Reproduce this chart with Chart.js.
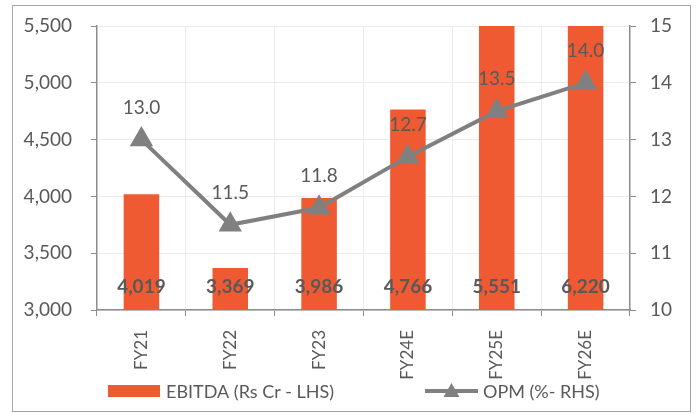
<!DOCTYPE html>
<html>
<head>
<meta charset="utf-8">
<script src="https://cdn.jsdelivr.net/npm/chart.js@4.4.1/dist/chart.umd.min.js"></script>
<style>
  html, body { margin: 0; padding: 0; background: #fff; }
  #wrap { position: relative; width: 696px; height: 413px; }
  #frame { position: absolute; left: 12px; top: 5px; width: 679px; height: 407px;
           border: 1px solid #a6a6a6; box-sizing: border-box; pointer-events: none; }
</style>
</head>
<body>
<div id="wrap">
  <canvas id="c" width="696" height="413"></canvas>
  <div id="frame"></div>
</div>
<script>
const years = ['FY21', 'FY22', 'FY23', 'FY24E', 'FY25E', 'FY26E'];
const ebitda = [4019, 3369, 3986, 4766, 5551, 6220];
const opm = [13.0, 11.5, 11.8, 12.7, 13.5, 14.0];
const leftTicks = [3000, 3500, 4000, 4500, 5000, 5500];
const rightTicks = [10, 11, 12, 13, 14, 15];

const FONT = 'Lato, "Open Sans", sans-serif';
const TXT = '#595959';
const BAR = '#F05A32';
const LINE = '#808080';
const AXIS = '#8c8c8c';
const GRID = '#ebebeb';

// value labels: bold inside bars near the base, plain above line points
const valueLabels = {
  id: 'valueLabels',
  afterDatasetsDraw(chart) {
    const ctx = chart.ctx;
    const bottom = chart.chartArea.bottom;
    ctx.save();
    ctx.fillStyle = TXT;
    ctx.textAlign = 'center';
    ctx.textBaseline = 'middle';
    ctx.font = 'bold 19px ' + FONT;
    chart.getDatasetMeta(0).data.forEach((el, i) => {
      ctx.fillText(ebitda[i].toLocaleString('en-US'), el.x, bottom - 23);
    });
    ctx.font = '19px ' + FONT;
    chart.getDatasetMeta(1).data.forEach((el, i) => {
      ctx.fillText(opm[i].toFixed(1), el.x, el.y - 32);
    });
    ctx.restore();
  }
};

// legend row under the axis labels
const bottomLegend = {
  id: 'bottomLegend',
  afterDraw(chart) {
    const ctx = chart.ctx;
    const y = 391;
    ctx.save();
    ctx.fillStyle = BAR;
    ctx.fillRect(108, y - 6, 52, 12);
    ctx.fillStyle = TXT;
    ctx.font = '18px ' + FONT;
    ctx.textBaseline = 'middle';
    ctx.textAlign = 'left';
    ctx.fillText(chart.data.datasets[0].label, 166, y + 1);
    ctx.strokeStyle = LINE;
    ctx.lineWidth = 4;
    ctx.beginPath();
    ctx.moveTo(425, y);
    ctx.lineTo(478, y);
    ctx.stroke();
    ctx.fillStyle = LINE;
    ctx.beginPath();
    ctx.moveTo(451.5, y - 8);
    ctx.lineTo(459.5, y + 6);
    ctx.lineTo(443.5, y + 6);
    ctx.closePath();
    ctx.fill();
    ctx.fillStyle = TXT;
    ctx.fillText(chart.data.datasets[1].label, 483, y + 1);
    ctx.restore();
  }
};

// fixed axis sizes so the plot area lands where it should
function fixVertical(width) {
  return s => { s.width = width; s.paddingTop = 0; s.paddingBottom = 0; };
}

new Chart(document.getElementById('c'), {
  data: {
    labels: years,
    datasets: [
      {
        type: 'bar',
        label: 'EBITDA (Rs Cr - LHS)',
        data: ebitda,
        yAxisID: 'y',
        backgroundColor: BAR,
        categoryPercentage: 1,
        barPercentage: 0.4,
        order: 2
      },
      {
        type: 'line',
        label: 'OPM (%- RHS)',
        data: opm,
        yAxisID: 'y1',
        borderColor: LINE,
        backgroundColor: LINE,
        borderWidth: 4,
        pointStyle: 'triangle',
        pointRadius: 9.5,
        pointHoverRadius: 9.5,
        tension: 0,
        order: 1
      }
    ]
  },
  options: {
    responsive: false,
    animation: false,
    events: [],
    layout: { padding: { top: 26, left: 0, right: 0, bottom: 0 } },
    plugins: { legend: { display: false }, tooltip: { enabled: false } },
    scales: {
      x: {
        offset: true,
        grid: { color: GRID, tickColor: AXIS, tickLength: 6, offset: true, drawOnChartArea: true },
        border: { color: AXIS, width: 1.5 },
        ticks: { color: TXT, font: { family: FONT, size: 17 }, minRotation: 90, maxRotation: 90, padding: 14 },
        afterFit(s) { s.height = 103; }
      },
      y: {
        position: 'left',
        min: 3000, max: 5500,
        afterBuildTicks(s) { s.ticks = leftTicks.map(v => ({ value: v })); },
        grid: { color: GRID, tickColor: AXIS, tickLength: 6 },
        border: { color: AXIS, width: 1.5 },
        ticks: {
          color: TXT, font: { family: FONT, size: 19 }, padding: 19,
          callback: v => v.toLocaleString('en-US')
        },
        afterFit: fixVertical(97)
      },
      y1: {
        position: 'right',
        min: 10, max: 15,
        afterBuildTicks(s) { s.ticks = rightTicks.map(v => ({ value: v })); },
        grid: { drawOnChartArea: false, tickColor: AXIS, tickLength: 6 },
        border: { color: AXIS, width: 1.5 },
        ticks: { color: TXT, font: { family: FONT, size: 19 }, padding: 14 },
        afterFit: fixVertical(66)
      }
    }
  },
  plugins: [valueLabels, bottomLegend]
});
</script>
</body>
</html>
